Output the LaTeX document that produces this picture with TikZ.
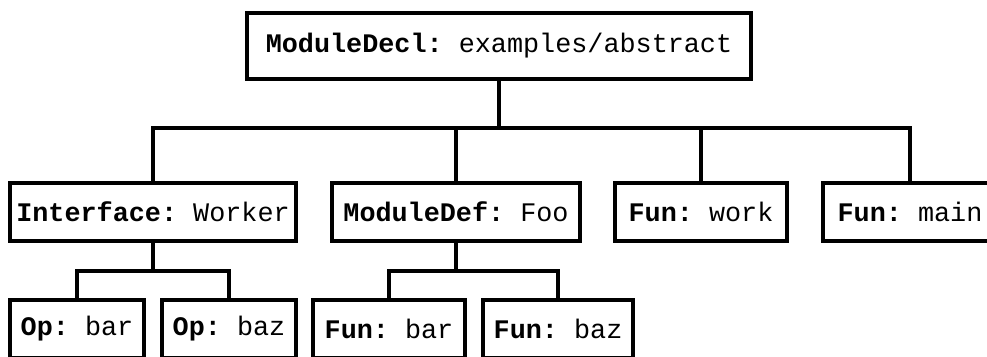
\documentclass[tikz,border=0pt]{standalone}
\usepackage{fontspec}
\setmonofont{Liberation Mono}

\tikzset{
  astnode/.style={draw, line width=4pt, fill=white, inner sep=0pt,
    minimum height=58pt, font=\ttfamily\fontsize{26.8}{32}\selectfont},
}
\newcommand{\kind}[1]{\textbf{#1:}}

\begin{document}
\begin{tikzpicture}[x=1pt, y=-1pt, line width=4pt]
        \useasboundingbox (0,0) rectangle (987,356);
        \clip (0,0) rectangle (987,356);

        % root
        \node[astnode, minimum width=504pt, minimum height=66pt] (decl) at (499,46) {\kind{ModuleDecl} examples/abstract};

        % second level
        \node[astnode, minimum width=286pt] (iface) at (153,212) {\kind{Interface} Worker};
        \node[astnode, minimum width=248pt] (moddef) at (456,212) {\kind{ModuleDef} Foo};
        \node[astnode, minimum width=172pt] (work) at (701,212) {\kind{Fun} work};
        \node[astnode, minimum width=174pt] (mainfn) at (910,212) {\kind{Fun} main};

        % third level
        \node[astnode, minimum width=134pt] (opbar) at (77,329) {\kind{Op} bar};
        \node[astnode, minimum width=134pt] (opbaz) at (229,329) {\kind{Op} baz};
        \node[astnode, minimum width=152pt] (funbar) at (389,329) {\kind{Fun} bar};
        \node[astnode, minimum width=150pt] (funbaz) at (558,329) {\kind{Fun} baz};

        \coordinate (bar1) at (499,128);
        \coordinate (bar2) at (153,271);
        \coordinate (bar3) at (456,271);

        \draw (decl.south) -- (bar1);
        \draw (iface.north) |- (bar1) -| (mainfn.north);
        \draw (moddef.north) -- (moddef.north |- bar1);
        \draw (work.north) -- (work.north |- bar1);

        \draw (iface.south) -- (bar2);
        \draw (opbar.north) |- (bar2) -| (opbaz.north);

        \draw (moddef.south) -- (bar3);
        \draw (funbar.north) |- (bar3) -| (funbaz.north);
\end{tikzpicture}
\end{document}
